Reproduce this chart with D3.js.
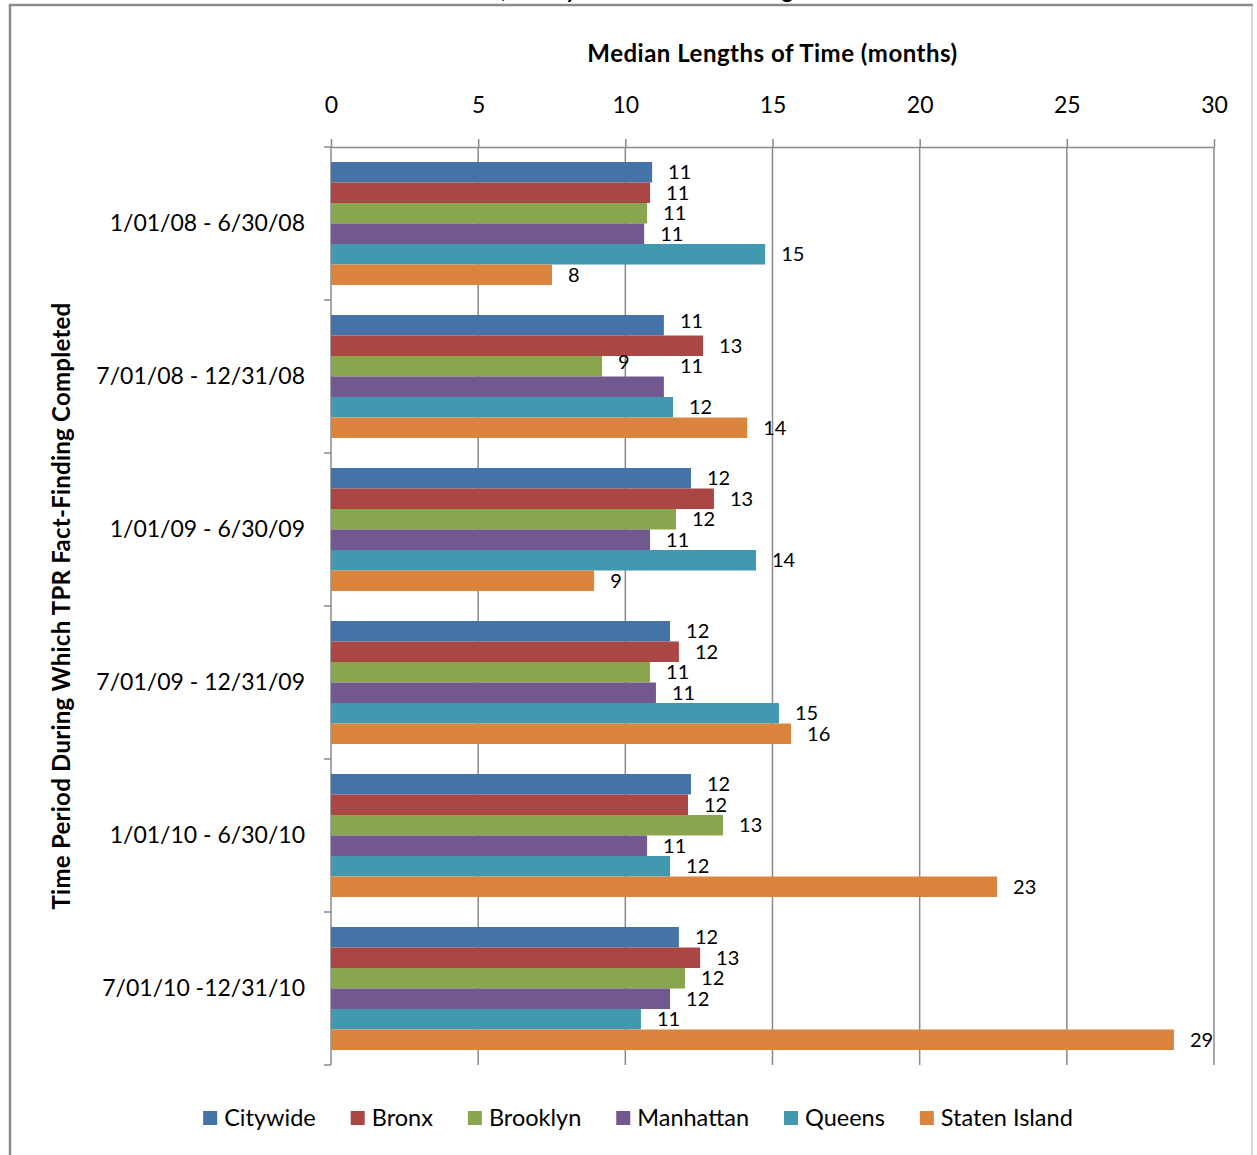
<!DOCTYPE html>
<html>
<head>
<meta charset="utf-8">
<script src="https://cdn.jsdelivr.net/npm/d3@7"></script>
<style>
  html, body { margin: 0; padding: 0; background: #fff; }
  svg { display: block; font-family: Lato, "Open Sans", sans-serif; }
</style>
</head>
<body>
<svg id="chart" width="1257" height="1155"></svg>
<script>
// Half-year periods in which TPR fact-finding was completed
const categories = [
  "1/01/08 - 6/30/08",
  "7/01/08 - 12/31/08",
  "1/01/09 - 6/30/09",
  "7/01/09 - 12/31/09",
  "1/01/10 - 6/30/10",
  "7/01/10 -12/31/10"
];

const seriesNames = ["Citywide", "Bronx", "Brooklyn", "Manhattan", "Queens", "Staten Island"];

// Median lengths of time (months), one value per period
const citywide     = [10.91, 11.31, 12.23, 11.52, 12.23, 11.82];
const bronx        = [10.84, 12.64, 13.01, 11.82, 12.13, 12.54];
const brooklyn     = [10.74,  9.21, 11.72, 10.84, 13.32, 12.03];
const manhattan    = [10.64, 11.31, 10.84, 11.04, 10.74, 11.52];
const queens       = [14.75, 11.62, 14.44, 15.22, 11.52, 10.53];
const statenIsland = [ 7.51, 14.14,  8.94, 15.63, 22.63, 28.64];

const xTicks = [0, 5, 10, 15, 20, 25, 30];

const seriesValues = [citywide, bronx, brooklyn, manhattan, queens, statenIsland];
const colors = ["#4572A7", "#AA4643", "#89A54E", "#71588F", "#4198AF", "#DB843D"];

// Label placement tweaks for the crowded second period (period index, series index, dy)
const labelShifts = [[1, 0, -4], [1, 2, -4], [1, 3, -21]];

const svg = d3.select("#chart");
const plot = { left: 331, right: 1214, top: 147, bottom: 1065 };
const gridColor = "#8a8a8a";

// Outer frame
svg.append("line").attr("x1", 10).attr("x2", 10).attr("y1", 4).attr("y2", 1155)
  .attr("stroke", "#8c8c8c").attr("stroke-width", 2.5);
svg.append("line").attr("x1", 9).attr("x2", 1253).attr("y1", 5).attr("y2", 5)
  .attr("stroke", "#8c8c8c").attr("stroke-width", 2.5);
svg.append("line").attr("x1", 1252).attr("x2", 1252).attr("y1", 5).attr("y2", 1155)
  .attr("stroke", "#b4b4b4").attr("stroke-width", 1);

// Chart title (runs above the frame)
svg.append("text")
  .attr("x", 212).attr("y", -2)
  .attr("font-size", 22).attr("font-weight", "bold").attr("fill", "#000")
  .text("Median Time to TPR Decision, and by Period and Its Borough");

const x = d3.scaleLinear().domain([0, 30]).range([plot.left, plot.right]);
const y = d3.scaleBand().domain(categories).range([plot.top, plot.bottom])
  .paddingInner(0.196).paddingOuter(0.098);
const ySeries = d3.scaleBand().domain(seriesNames).range([0, y.bandwidth()]);
const step = y.step();
const bandStart = c => y(c) - y.paddingOuter() * step;

// Vertical gridlines
svg.append("g").selectAll("line").data(xTicks.filter(t => t > 0)).join("line")
  .attr("x1", d => x(d)).attr("x2", d => x(d))
  .attr("y1", plot.top).attr("y2", plot.bottom)
  .attr("stroke", gridColor).attr("stroke-width", 1.5);

// Top value axis
const xAxis = svg.append("g").attr("transform", `translate(0,${plot.top})`)
  .call(d3.axisTop(x).tickValues(xTicks).tickSize(8).tickPadding(26).tickSizeOuter(0));
xAxis.select(".domain").attr("stroke", gridColor).attr("stroke-width", 1.5);
xAxis.selectAll(".tick line").attr("stroke", gridColor).attr("stroke-width", 1.5);
xAxis.selectAll(".tick text").attr("font-size", 23).attr("fill", "#000")
  .attr("font-family", "Lato, sans-serif");

// Left category axis
const yAxis = svg.append("g").attr("transform", `translate(${plot.left},0)`)
  .call(d3.axisLeft(y).tickSize(0).tickPadding(26));
yAxis.select(".domain").remove();
yAxis.selectAll(".tick text").attr("font-size", 23).attr("fill", "#000")
  .attr("font-family", "Lato, sans-serif");
svg.append("line").attr("x1", plot.left).attr("x2", plot.left)
  .attr("y1", plot.top).attr("y2", plot.bottom)
  .attr("stroke", gridColor).attr("stroke-width", 1.5);
const boundaries = categories.map(bandStart).concat([plot.bottom]);
svg.append("g").selectAll("line").data(boundaries).join("line")
  .attr("x1", plot.left - 7).attr("x2", plot.left)
  .attr("y1", d => d).attr("y2", d => d)
  .attr("stroke", gridColor).attr("stroke-width", 1.5);

// Bars and value labels
const rows = [];
categories.forEach((c, ci) => {
  seriesNames.forEach((s, si) => {
    rows.push({ c, ci, s, si, v: seriesValues[si][ci] });
  });
});

svg.append("g").selectAll("rect").data(rows).join("rect")
  .attr("x", x(0))
  .attr("y", d => y(d.c) + ySeries(d.s))
  .attr("width", d => x(d.v) - x(0))
  .attr("height", ySeries.bandwidth())
  .attr("fill", d => colors[d.si]);

const shiftOf = d => {
  const m = labelShifts.find(s => s[0] === d.ci && s[1] === d.si);
  return m ? m[2] : 0;
};
svg.append("g").selectAll("text").data(rows).join("text")
  .attr("x", d => x(d.v) + 16)
  .attr("y", d => y(d.c) + ySeries(d.s) + ySeries.bandwidth() / 2 + shiftOf(d))
  .attr("dy", "0.35em")
  .attr("font-size", 20).attr("fill", "#000")
  .text(d => Math.round(d.v));

// Axis titles
svg.append("text")
  .attr("x", (plot.left + plot.right) / 2).attr("y", 62)
  .attr("text-anchor", "middle")
  .attr("font-size", 24).attr("letter-spacing", 0.5)
  .attr("font-weight", "bold").attr("fill", "#000")
  .text("Median Lengths of Time (months)");

svg.append("text")
  .attr("transform", `translate(70,${(plot.top + plot.bottom) / 2}) rotate(-90)`)
  .attr("text-anchor", "middle")
  .attr("font-size", 24).attr("letter-spacing", 0.25)
  .attr("font-weight", "bold").attr("fill", "#000")
  .text("Time Period During Which TPR Fact-Finding Completed");

// Legend
const legendGap = 35;
const legend = svg.append("g");
let lx = 0;
seriesNames.forEach((name, i) => {
  const item = legend.append("g").attr("transform", `translate(${lx},0)`);
  item.append("rect").attr("x", 0).attr("y", -7).attr("width", 14).attr("height", 14)
    .attr("fill", colors[i]);
  const t = item.append("text").attr("x", 21).attr("y", 0).attr("dy", "0.35em")
    .attr("font-size", 23.5).attr("fill", "#000").text(name);
  lx += 21 + t.node().getComputedTextLength() + legendGap;
});
const legendWidth = lx - legendGap;
legend.attr("transform", `translate(${638 - legendWidth / 2},1118)`);
</script>
</body>
</html>
